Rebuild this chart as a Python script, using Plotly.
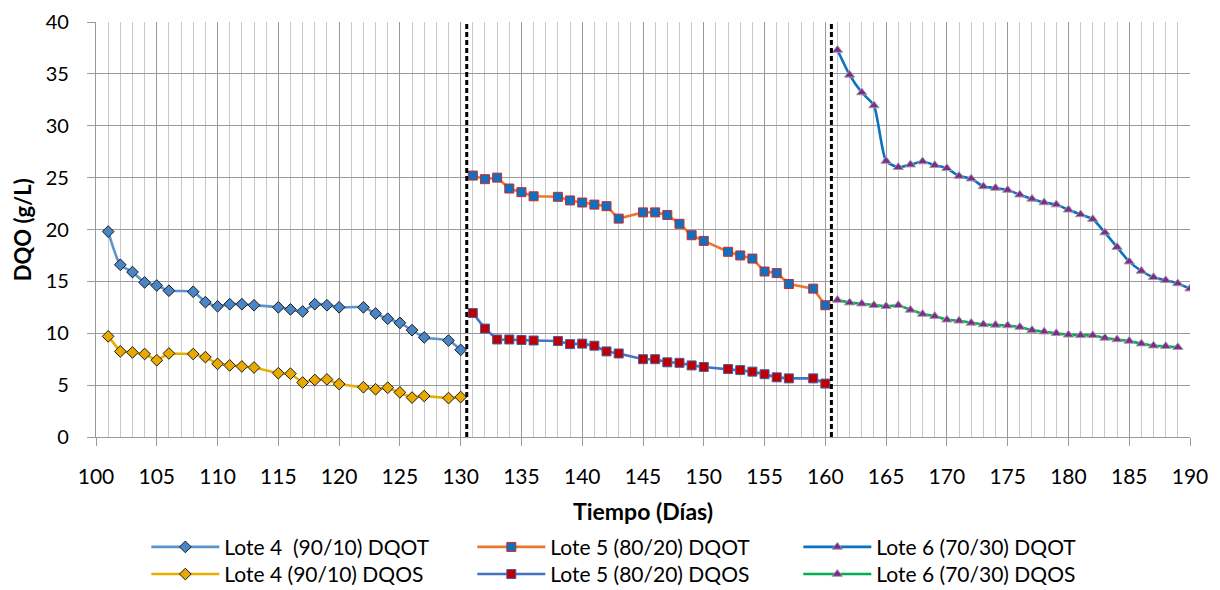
import plotly.graph_objects as go

# ---------------- data ----------------
dias_l4 = [101, 102, 103, 104, 105, 106, 108, 109, 110, 111, 112, 113, 115, 116, 117, 118, 119, 120, 122, 123, 124, 125, 126, 127, 129, 130]
dqot_l4 = [19.8, 16.6, 15.9, 14.9, 14.6, 14.1, 14.0, 13.0, 12.6, 12.8, 12.8, 12.7, 12.5, 12.3, 12.1, 12.8, 12.7, 12.5, 12.5, 11.9, 11.4, 11.0, 10.3, 9.6, 9.3, 8.4]
dqos_l4 = [9.7, 8.25, 8.15, 8.0, 7.4, 8.05, 8.0, 7.7, 7.05, 6.9, 6.8, 6.7, 6.15, 6.1, 5.25, 5.5, 5.55, 5.1, 4.8, 4.6, 4.75, 4.3, 3.8, 3.95, 3.75, 3.85]

dias_l5 = [131, 132, 133, 134, 135, 136, 138, 139, 140, 141, 142, 143, 145, 146, 147, 148, 149, 150, 152, 153, 154, 155, 156, 157, 159, 160]
dqot_l5 = [25.2, 24.85, 25.0, 23.95, 23.6, 23.2, 23.15, 22.8, 22.6, 22.4, 22.25, 21.05, 21.65, 21.65, 21.4, 20.55, 19.45, 18.9, 17.85, 17.5, 17.2, 15.95, 15.8, 14.75, 14.3, 12.7]
dqos_l5 = [11.95, 10.45, 9.4, 9.4, 9.35, 9.3, 9.25, 8.95, 9.0, 8.8, 8.25, 8.05, 7.5, 7.5, 7.2, 7.15, 6.9, 6.75, 6.55, 6.45, 6.3, 6.05, 5.75, 5.65, 5.65, 5.15]

dias_l6t = [161, 162, 163, 164, 165, 166, 167, 168, 169, 170, 171, 172, 173, 174, 175, 176, 177, 178, 179, 180, 181, 182, 183, 184, 185, 186, 187, 188, 189, 190]
dqot_l6 = [37.3, 34.9, 33.2, 31.95, 26.6, 26.0, 26.25, 26.55, 26.2, 25.9, 25.15, 24.9, 24.15, 24.0, 23.8, 23.35, 22.95, 22.6, 22.4, 21.9, 21.45, 21.0, 19.7, 18.3, 16.9, 16.0, 15.4, 15.1, 14.8, 14.3]
dias_l6s = [161, 162, 163, 164, 165, 166, 167, 168, 169, 170, 171, 172, 173, 174, 175, 176, 177, 178, 179, 180, 181, 182, 183, 184, 185, 186, 187, 188, 189]
dqos_l6 = [13.2, 12.95, 12.85, 12.7, 12.6, 12.7, 12.25, 11.85, 11.65, 11.3, 11.2, 11.0, 10.85, 10.8, 10.75, 10.6, 10.3, 10.15, 10.0, 9.85, 9.8, 9.8, 9.55, 9.4, 9.25, 9.0, 8.8, 8.75, 8.65]

divisiones = [130.5, 160.5]   # day boundaries between batches (dashed lines)

x_ticks = list(range(100, 191, 5))
y_ticks = list(range(0, 41, 5))

FONT = "Lato"

fig = go.Figure()

def add(name, x, y, lcolor, symbol, mfill, mline, legend, shape="linear"):
    fig.add_trace(go.Scatter(
        x=x, y=y, name=name, mode="lines+markers", legend=legend,
        line=dict(color=lcolor, width=2.6, shape=shape, smoothing=0.6),
        marker=dict(symbol=symbol, size=9, color=mfill, line=dict(color=mline, width=1)),
    ))

# row 1 = DQOT (legend), row 2 = DQOS (legend2)
add("Lote 4  (90/10) DQOT", dias_l4, dqot_l4, "#5b93cc", "diamond", "#4a86c5", "#1a1a1a", "legend", "spline")
add("Lote 5 (80/20) DQOT", dias_l5, dqot_l5, "#e8782f", "square", "#1070c0", "#d02828", "legend")
add("Lote 6 (70/30) DQOT", dias_l6t, dqot_l6, "#0a72c0", "triangle-up", "#7e2a8e", "#a0a0a0", "legend", "spline")
add("Lote 4 (90/10) DQOS", dias_l4, dqos_l4, "#e8ae00", "diamond", "#e8aa00", "#1a1a1a", "legend2")
add("Lote 5 (80/20) DQOS", dias_l5, dqos_l5, "#4472c4", "square", "#c00000", "#4060a8", "legend2")
add("Lote 6 (70/30) DQOS", dias_l6s, dqos_l6, "#00b050", "triangle-up", "#7e2a8e", "#a0a0a0", "legend2")

for d in divisiones:
    fig.add_shape(type="line", xref="x", yref="y", x0=d, x1=d, y0=0, y1=40,
                  line=dict(color="black", width=3, dash="5px,3px"))

leg_common = dict(orientation="h", x=0.046, xref="paper", yref="container",
                  xanchor="left", yanchor="middle",
                  entrywidth=243, entrywidthmode="pixels", itemwidth=68,
                  font=dict(family=FONT, size=21), bgcolor="rgba(0,0,0,0)")

fig.update_layout(
    width=1220, height=590,
    margin=dict(l=88, r=38, t=14, b=161, autoexpand=False),
    paper_bgcolor="white", plot_bgcolor="white",
    font=dict(family=FONT, color="black", size=21),
    legend=dict(y=0.086, **leg_common),
    legend2=dict(y=0.040, **leg_common),
    showlegend=True,
    annotations=[
        dict(text="<b>Tiempo (Días)</b>", xref="paper", yref="paper", x=0.5, y=-0.178,
             xanchor="center", yanchor="middle", showarrow=False,
             font=dict(family=FONT, size=23, color="black")),
        dict(text="<b>DQO (g/L)</b>", xref="paper", yref="paper", x=-0.067, y=0.5,
             xanchor="center", yanchor="middle", showarrow=False, textangle=-90,
             font=dict(family=FONT, size=22, color="black")),
    ],
)

fig.update_xaxes(
    range=[100, 190], tickvals=x_ticks, ticktext=[str(v) for v in x_ticks],
    showgrid=True, gridcolor="#9a9a9a", gridwidth=1.3,
    minor=dict(dtick=1, tick0=100, showgrid=True, gridcolor="#c8c8c8", gridwidth=1.3),
    ticks="outside", ticklen=8, tickcolor="#9a9a9a", tickwidth=1.3,
    showline=True, linecolor="#9a9a9a", linewidth=1.3, mirror=False,
    zeroline=False, tickfont=dict(family=FONT, size=21), automargin=False,
    ticklabeloverflow="allow", ticklabelstandoff=13,
)
fig.update_yaxes(
    range=[0, 40], tickvals=y_ticks, ticktext=[str(v) for v in y_ticks],
    showgrid=True, gridcolor="#9a9a9a", gridwidth=1.3,
    ticks="outside", ticklen=8, tickcolor="#9a9a9a", tickwidth=1.3,
    showline=True, linecolor="#9a9a9a", linewidth=1.3,
    zeroline=False, tickfont=dict(family=FONT, size=20), automargin=False,
    ticklabeloverflow="allow", ticklabelstandoff=14,
)

fig.write_html("out.html")
